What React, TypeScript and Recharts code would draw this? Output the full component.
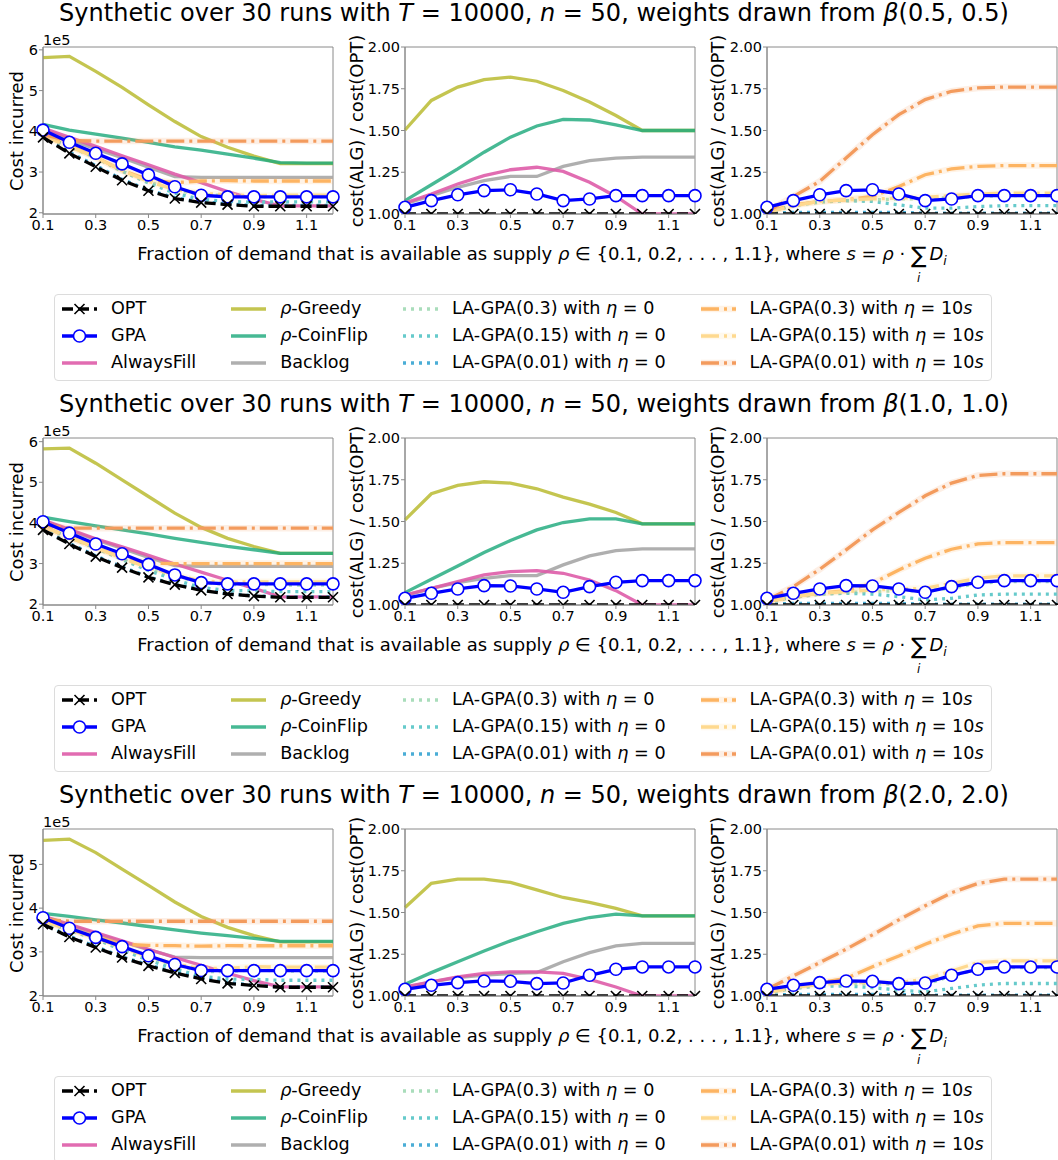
import React from 'react';
import { LineChart, Line, XAxis, YAxis, ReferenceArea } from 'recharts';

// ---------- data (cost in units of 1e5; ratio = cost(ALG)/cost(OPT)) ----------
const rho = [0.1, 0.2, 0.3, 0.4, 0.5, 0.6, 0.7, 0.8, 0.9, 1.0, 1.1, 1.2];
const xTicks = [0.1, 0.3, 0.5, 0.7, 0.9, 1.1];
const costTicks = [2, 3, 4, 5, 6];
const ratioTicks = [1.0, 1.25, 1.5, 1.75, 2.0];
const betaParams = ['0.5, 0.5', '1.0, 1.0', '2.0, 2.0'];

// Row 1: beta(0.5, 0.5)
const r1CostOPT = [3.85, 3.46, 3.13, 2.8, 2.54, 2.35, 2.25, 2.2, 2.16, 2.16, 2.16, 2.16];
const r1CostGPA = [4.03, 3.73, 3.46, 3.2, 2.93, 2.64, 2.43, 2.39, 2.39, 2.39, 2.39, 2.39];
const r1CostFill = [4.08, 3.85, 3.63, 3.4, 3.18, 2.95, 2.74, 2.52, 2.33, 2.17, 2.17, 2.17];
const r1CostGreedy = [5.81, 5.84, 5.47, 5.08, 4.65, 4.24, 3.87, 3.61, 3.39, 3.21, 3.21, 3.21];
const r1CostCoin = [4.17, 4.03, 3.93, 3.83, 3.73, 3.62, 3.54, 3.44, 3.34, 3.23, 3.22, 3.22];
const r1CostBacklog = [4.05, 3.8, 3.57, 3.35, 3.12, 2.89, 2.87, 2.87, 2.87, 2.87, 2.87, 2.87];
const r1CostLa03e0 = [3.89, 3.63, 3.35, 3.02, 2.76, 2.56, 2.45, 2.42, 2.39, 2.4, 2.4, 2.4];
const r1CostLa015e0 = [3.89, 3.63, 3.36, 3.02, 2.73, 2.48, 2.33, 2.28, 2.26, 2.27, 2.27, 2.27];
const r1CostLa001e0 = [3.87, 3.49, 3.16, 2.82, 2.56, 2.37, 2.27, 2.22, 2.18, 2.18, 2.18, 2.18];
const r1CostLa03e10 = [3.89, 3.65, 3.36, 3.04, 2.81, 2.74, 2.78, 2.79, 2.78, 2.78, 2.78, 2.78];
const r1CostLa015e10 = [3.89, 3.63, 3.36, 3.04, 2.77, 2.57, 2.48, 2.44, 2.42, 2.43, 2.43, 2.43];
const r1CostLa001e10 = [3.92, 3.77, 3.76, 3.76, 3.76, 3.76, 3.76, 3.76, 3.76, 3.76, 3.76, 3.76];

const r1RatioOPT = [1, 1, 1, 1, 1, 1, 1, 1, 1, 1, 1, 1];
const r1RatioGPA = [1.04, 1.08, 1.115, 1.14, 1.145, 1.12, 1.08, 1.09, 1.11, 1.11, 1.11, 1.11];
const r1RatioFill = [1.065, 1.12, 1.18, 1.23, 1.265, 1.28, 1.255, 1.19, 1.105, 1.0, 1.0, 1.0];
const r1RatioGreedy = [1.503, 1.68, 1.76, 1.805, 1.82, 1.795, 1.74, 1.67, 1.59, 1.5, 1.5, 1.5];
const r1RatioCoin = [1.08, 1.175, 1.27, 1.37, 1.46, 1.527, 1.567, 1.563, 1.533, 1.5, 1.5, 1.5];
const r1RatioBacklog = [1.06, 1.11, 1.16, 1.2, 1.225, 1.225, 1.285, 1.32, 1.335, 1.34, 1.34, 1.34];
const r1RatioLa03e0 = [1.01, 1.05, 1.07, 1.08, 1.085, 1.09, 1.09, 1.1, 1.105, 1.11, 1.11, 1.11];
const r1RatioLa015e0 = [1.01, 1.05, 1.075, 1.08, 1.075, 1.055, 1.035, 1.035, 1.045, 1.05, 1.05, 1.05];
const r1RatioLa001e0 = [1.005, 1.01, 1.01, 1.01, 1.01, 1.01, 1.005, 1.005, 1.005, 1.005, 1.005, 1.005];
const r1RatioLa03e10 = [1.01, 1.055, 1.075, 1.085, 1.105, 1.165, 1.235, 1.27, 1.285, 1.29, 1.29, 1.29];
const r1RatioLa015e10 = [1.01, 1.05, 1.075, 1.085, 1.09, 1.095, 1.1, 1.11, 1.12, 1.125, 1.125, 1.125];
const r1RatioLa001e10 = [1.015, 1.105, 1.195, 1.335, 1.475, 1.595, 1.685, 1.735, 1.755, 1.76, 1.76, 1.76];

// Row 2: beta(1.0, 1.0)
const r2CostOPT = [3.83, 3.48, 3.17, 2.9, 2.66, 2.48, 2.34, 2.25, 2.2, 2.17, 2.17, 2.17];
const r2CostGPA = [4.03, 3.75, 3.48, 3.24, 2.98, 2.72, 2.53, 2.5, 2.5, 2.5, 2.5, 2.5];
const r2CostFill = [4.07, 3.84, 3.61, 3.41, 3.2, 2.99, 2.79, 2.59, 2.39, 2.18, 2.18, 2.18];
const r2CostGreedy = [5.82, 5.84, 5.47, 5.06, 4.65, 4.24, 3.89, 3.62, 3.42, 3.25, 3.25, 3.25];
const r2CostCoin = [4.14, 4.03, 3.93, 3.83, 3.73, 3.62, 3.52, 3.42, 3.34, 3.25, 3.25, 3.25];
const r2CostBacklog = [4.05, 3.82, 3.59, 3.37, 3.15, 2.95, 2.93, 2.93, 2.93, 2.93, 2.93, 2.93];
const r2CostLa03e0 = [3.91, 3.65, 3.38, 3.12, 2.87, 2.69, 2.54, 2.48, 2.49, 2.47, 2.47, 2.47];
const r2CostLa015e0 = [3.91, 3.64, 3.38, 3.1, 2.83, 2.6, 2.41, 2.34, 2.33, 2.31, 2.31, 2.31];
const r2CostLa001e0 = [3.85, 3.5, 3.19, 2.92, 2.67, 2.49, 2.35, 2.26, 2.21, 2.18, 2.18, 2.18];
const r2CostLa03e10 = [3.91, 3.65, 3.39, 3.15, 3.01, 3.0, 3.0, 3.0, 3.0, 3.0, 3.0, 3.0];
const r2CostLa015e10 = [3.91, 3.65, 3.39, 3.13, 2.9, 2.72, 2.57, 2.54, 2.55, 2.55, 2.55, 2.55];
const r2CostLa001e10 = [3.95, 3.87, 3.87, 3.87, 3.87, 3.87, 3.87, 3.87, 3.87, 3.87, 3.87, 3.87];

const r2RatioOPT = [1, 1, 1, 1, 1, 1, 1, 1, 1, 1, 1, 1];
const r2RatioGPA = [1.04, 1.07, 1.096, 1.116, 1.114, 1.096, 1.076, 1.11, 1.136, 1.146, 1.146, 1.146];
const r2RatioFill = [1.06, 1.1, 1.14, 1.18, 1.2, 1.206, 1.19, 1.15, 1.086, 1.0, 1.0, 1.0];
const r2RatioGreedy = [1.51, 1.666, 1.716, 1.738, 1.73, 1.696, 1.646, 1.604, 1.554, 1.486, 1.486, 1.486];
const r2RatioCoin = [1.074, 1.154, 1.234, 1.314, 1.386, 1.45, 1.494, 1.516, 1.516, 1.486, 1.486, 1.486];
const r2RatioBacklog = [1.056, 1.1, 1.134, 1.16, 1.176, 1.176, 1.24, 1.294, 1.326, 1.336, 1.336, 1.336];
const r2RatioLa03e0 = [1.02, 1.05, 1.065, 1.075, 1.08, 1.085, 1.085, 1.1, 1.13, 1.14, 1.14, 1.14];
const r2RatioLa015e0 = [1.02, 1.045, 1.065, 1.07, 1.065, 1.05, 1.03, 1.04, 1.06, 1.065, 1.065, 1.065];
const r2RatioLa001e0 = [1.005, 1.01, 1.01, 1.01, 1.01, 1.01, 1.005, 1.005, 1.005, 1.005, 1.005, 1.005];
const r2RatioLa03e10 = [1.02, 1.05, 1.07, 1.086, 1.13, 1.21, 1.28, 1.334, 1.366, 1.374, 1.374, 1.374];
const r2RatioLa015e10 = [1.02, 1.05, 1.07, 1.08, 1.09, 1.095, 1.1, 1.13, 1.16, 1.175, 1.175, 1.175];
const r2RatioLa001e10 = [1.03, 1.11, 1.214, 1.33, 1.45, 1.554, 1.654, 1.73, 1.776, 1.786, 1.786, 1.786];

// Row 3: beta(2.0, 2.0)
const r3CostOPT = [3.63, 3.34, 3.1, 2.87, 2.68, 2.52, 2.38, 2.28, 2.23, 2.19, 2.19, 2.19];
const r3CostGPA = [3.78, 3.54, 3.33, 3.12, 2.91, 2.71, 2.57, 2.57, 2.57, 2.57, 2.57, 2.57];
const r3CostFill = [3.82, 3.63, 3.44, 3.25, 3.06, 2.87, 2.69, 2.51, 2.34, 2.2, 2.2, 2.2];
const r3CostGreedy = [5.55, 5.58, 5.27, 4.89, 4.52, 4.14, 3.81, 3.56, 3.37, 3.23, 3.23, 3.23];
const r3CostCoin = [3.88, 3.81, 3.73, 3.66, 3.58, 3.5, 3.43, 3.37, 3.31, 3.24, 3.24, 3.24];
const r3CostBacklog = [3.8, 3.6, 3.42, 3.23, 3.05, 2.88, 2.87, 2.87, 2.87, 2.87, 2.87, 2.87];
const r3CostLa03e0 = [3.7, 3.51, 3.32, 3.09, 2.88, 2.7, 2.55, 2.55, 2.59, 2.56, 2.56, 2.56];
const r3CostLa015e0 = [3.7, 3.49, 3.29, 3.04, 2.81, 2.61, 2.44, 2.38, 2.37, 2.35, 2.35, 2.35];
const r3CostLa001e0 = [3.65, 3.36, 3.12, 2.89, 2.7, 2.54, 2.4, 2.3, 2.24, 2.2, 2.2, 2.2];
const r3CostLa03e10 = [3.72, 3.52, 3.35, 3.17, 3.15, 3.14, 3.13, 3.14, 3.14, 3.14, 3.14, 3.14];
const r3CostLa015e10 = [3.7, 3.51, 3.32, 3.1, 2.89, 2.72, 2.62, 2.62, 2.66, 2.65, 2.65, 2.65];
const r3CostLa001e10 = [3.75, 3.7, 3.7, 3.7, 3.7, 3.7, 3.7, 3.7, 3.7, 3.7, 3.7, 3.7];

const r3RatioOPT = [1, 1, 1, 1, 1, 1, 1, 1, 1, 1, 1, 1];
const r3RatioGPA = [1.04, 1.064, 1.08, 1.09, 1.088, 1.074, 1.078, 1.124, 1.16, 1.174, 1.174, 1.174];
const r3RatioFill = [1.054, 1.085, 1.115, 1.135, 1.145, 1.145, 1.135, 1.1, 1.054, 1.0, 1.0, 1.0];
const r3RatioGreedy = [1.53, 1.675, 1.7, 1.7, 1.68, 1.635, 1.59, 1.56, 1.525, 1.48, 1.48, 1.48];
const r3RatioCoin = [1.07, 1.14, 1.205, 1.27, 1.33, 1.385, 1.435, 1.47, 1.49, 1.48, 1.48, 1.48];
const r3RatioBacklog = [1.05, 1.085, 1.11, 1.125, 1.135, 1.14, 1.205, 1.26, 1.3, 1.315, 1.315, 1.315];
const r3RatioLa03e0 = [1.02, 1.05, 1.07, 1.075, 1.075, 1.07, 1.07, 1.12, 1.16, 1.17, 1.17, 1.17];
const r3RatioLa015e0 = [1.02, 1.045, 1.06, 1.06, 1.05, 1.035, 1.025, 1.045, 1.065, 1.075, 1.075, 1.075];
const r3RatioLa001e0 = [1.005, 1.01, 1.01, 1.01, 1.01, 1.01, 1.005, 1.005, 1.005, 1.005, 1.005, 1.005];
const r3RatioLa03e10 = [1.024, 1.054, 1.08, 1.105, 1.175, 1.24, 1.31, 1.37, 1.42, 1.435, 1.435, 1.435];
const r3RatioLa015e10 = [1.02, 1.05, 1.07, 1.08, 1.08, 1.08, 1.1, 1.15, 1.2, 1.21, 1.21, 1.21];
const r3RatioLa001e10 = [1.04, 1.12, 1.2, 1.28, 1.366, 1.456, 1.54, 1.618, 1.674, 1.7, 1.7, 1.7];

const costDomains: [number, number][] = [[1.97, 6.07], [1.98, 6.09], [1.99, 5.81]];

// ---------- styles ----------
const DASH_OPT = '11 5';
const DOT = '3 5';
const DASHDOT = '18 5 3 5';

const STYLE: Record<string, any> = {
  opt: { color: '#000000', width: 3.3, dash: DASH_OPT },
  gpa: { color: '#0000ff', width: 3.3 },
  fill: { color: '#de5ca8', width: 3.3, opacity: 0.9 },
  greedy: { color: '#b5b624', width: 3.3, opacity: 0.8 },
  coin: { color: '#1fa97c', width: 3.3, opacity: 0.82 },
  backlog: { color: '#a6a6a6', width: 3.3, opacity: 0.9 },
  la03e0: { color: '#a9ddbb', width: 3.3, dash: DOT },
  la015e0: { color: '#66cacb', width: 3.3, dash: DOT },
  la001e0: { color: '#4aadd6', width: 3.3, dash: DOT },
  la03e10: { color: '#fdb462', width: 3.3, dash: DASHDOT, halo: true },
  la015e10: { color: '#fed98f', width: 3.3, dash: DASHDOT, halo: true },
  la001e10: { color: '#f39b5d', width: 3.3, dash: DASHDOT, halo: true },
};

const P1_KEYS = ['greedy', 'coin', 'backlog', 'fill', 'la03e0', 'la015e0', 'la001e0', 'la03e10', 'la015e10', 'la001e10', 'gpa', 'opt'];
const P2_KEYS = ['greedy', 'coin', 'backlog', 'fill', 'gpa', 'opt'];
const P3_KEYS = ['la03e0', 'la015e0', 'la001e0', 'la03e10', 'la015e10', 'la001e10', 'gpa', 'opt'];

function table(cols: Record<string, number[]>) {
  return rho.map((x, i) => {
    const row: any = { x };
    Object.keys(cols).forEach((k) => { row[k] = cols[k][i]; });
    return row;
  });
}

const costTables = [
  table({ opt: r1CostOPT, gpa: r1CostGPA, fill: r1CostFill, greedy: r1CostGreedy, coin: r1CostCoin, backlog: r1CostBacklog, la03e0: r1CostLa03e0, la015e0: r1CostLa015e0, la001e0: r1CostLa001e0, la03e10: r1CostLa03e10, la015e10: r1CostLa015e10, la001e10: r1CostLa001e10 }),
  table({ opt: r2CostOPT, gpa: r2CostGPA, fill: r2CostFill, greedy: r2CostGreedy, coin: r2CostCoin, backlog: r2CostBacklog, la03e0: r2CostLa03e0, la015e0: r2CostLa015e0, la001e0: r2CostLa001e0, la03e10: r2CostLa03e10, la015e10: r2CostLa015e10, la001e10: r2CostLa001e10 }),
  table({ opt: r3CostOPT, gpa: r3CostGPA, fill: r3CostFill, greedy: r3CostGreedy, coin: r3CostCoin, backlog: r3CostBacklog, la03e0: r3CostLa03e0, la015e0: r3CostLa015e0, la001e0: r3CostLa001e0, la03e10: r3CostLa03e10, la015e10: r3CostLa015e10, la001e10: r3CostLa001e10 }),
];
const ratioTables = [
  table({ opt: r1RatioOPT, gpa: r1RatioGPA, fill: r1RatioFill, greedy: r1RatioGreedy, coin: r1RatioCoin, backlog: r1RatioBacklog, la03e0: r1RatioLa03e0, la015e0: r1RatioLa015e0, la001e0: r1RatioLa001e0, la03e10: r1RatioLa03e10, la015e10: r1RatioLa015e10, la001e10: r1RatioLa001e10 }),
  table({ opt: r2RatioOPT, gpa: r2RatioGPA, fill: r2RatioFill, greedy: r2RatioGreedy, coin: r2RatioCoin, backlog: r2RatioBacklog, la03e0: r2RatioLa03e0, la015e0: r2RatioLa015e0, la001e0: r2RatioLa001e0, la03e10: r2RatioLa03e10, la015e10: r2RatioLa015e10, la001e10: r2RatioLa001e10 }),
  table({ opt: r3RatioOPT, gpa: r3RatioGPA, fill: r3RatioFill, greedy: r3RatioGreedy, coin: r3RatioCoin, backlog: r3RatioBacklog, la03e0: r3RatioLa03e0, la015e0: r3RatioLa015e0, la001e0: r3RatioLa001e0, la03e10: r3RatioLa03e10, la015e10: r3RatioLa015e10, la001e10: r3RatioLa001e10 }),
];

// ---------- layout ----------
const FONT = "'DejaVu Sans', sans-serif";
const ROW_STEP = 391;
const PLOT_TOP = 47;
const PLOT_W = 290;
const PLOT_H = 167;
const PANEL_LEFT = [43, 405, 767];
const YW = 45;
const XH = 30;
const MT = 10;
const MR = 12;
const SPINE = '#8a8a8a';

const XDot = (p: any) => {
  const { cx, cy, index } = p;
  if (cx == null || cy == null) return <g key={'xd' + index} />;
  const s = 5;
  return (
    <path key={'xd' + index} d={`M${cx - s},${cy - s}L${cx + s},${cy + s}M${cx - s},${cy + s}L${cx + s},${cy - s}`}
      stroke="#000" strokeWidth={1.6} fill="none" />
  );
};

function renderLines(keys: string[]) {
  const out: any[] = [];
  keys.forEach((k) => {
    const s = STYLE[k];
    if (s.halo) {
      out.push(
        <Line key={k + '-halo'} dataKey={k} type="linear" stroke={s.color} strokeOpacity={0.16} strokeWidth={6.5}
          dot={false} activeDot={false} isAnimationActive={false} />
      );
    }
    let dot: any = false;
    if (k === 'opt') dot = XDot;
    if (k === 'gpa') dot = { r: 6, fill: '#ffffff', stroke: '#0000ff', strokeWidth: 1.6 };
    out.push(
      <Line key={k} dataKey={k} type="linear" stroke={s.color} strokeWidth={s.width}
        strokeOpacity={s.opacity ?? 1} strokeDasharray={s.dash} dot={dot} activeDot={false}
        isAnimationActive={false} />
    );
  });
  return out;
}

function Panel({ left, top, data, keys, domain, ticks, fmt }: any) {
  return (
    <div style={{ position: 'absolute', left: left - YW, top: top - MT }}>
      <LineChart width={YW + PLOT_W + MR} height={MT + PLOT_H + XH} data={data}
        margin={{ top: MT, right: MR, left: 0, bottom: 0 }}>
        <XAxis dataKey="x" type="number" domain={[0.1, 1.2]} ticks={xTicks} interval={0}
          tickFormatter={(v: number) => v.toFixed(1)} height={XH} tickSize={4} tickMargin={2}
          stroke={SPINE} tick={{ fill: '#000', fontSize: 14.5, fontFamily: FONT }} />
        <YAxis type="number" domain={domain} ticks={ticks} interval={0} allowDataOverflow
          tickFormatter={fmt} width={YW} tickSize={4} tickMargin={1}
          stroke={SPINE} tick={{ fill: '#000', fontSize: 14.5, fontFamily: FONT }} />
        {renderLines(keys)}
        <ReferenceArea x1={0.1} x2={1.2} y1={domain[0]} y2={domain[1]} fill="#ffffff" fillOpacity={0}
          stroke={SPINE} strokeWidth={1} ifOverflow="visible" />
      </LineChart>
    </div>
  );
}

const Title = ({ top, beta }: any) => (
  <div style={{ position: 'absolute', left: 0, width: 1068, top, textAlign: 'center', fontSize: 24, lineHeight: '26px', whiteSpace: 'nowrap' }}>
    Synthetic over 30 runs with <i>T</i> = 10000, <i>n</i> = 50, weights drawn from <i>β</i>({beta})
  </div>
);

const XLabel = ({ top }: any) => (
  <div style={{ position: 'absolute', left: 0, width: 1084, top, textAlign: 'center', fontSize: 18, lineHeight: '20px', whiteSpace: 'nowrap' }}>
    Fraction of demand that is available as supply <i>ρ</i> ∈ {'{'}0.1, 0.2, . . . , 1.1{'}'}, where <i>s</i> = <i>ρ</i> ·{' '}
    <span style={{ display: 'inline-block', position: 'relative', fontSize: 23, lineHeight: '20px', verticalAlign: '-3px' }}>
      ∑
      <span style={{ position: 'absolute', left: '50%', top: 27, transform: 'translateX(-50%)', fontSize: 12, lineHeight: '12px', fontStyle: 'italic' }}>i</span>
    </span>
    <span style={{ marginLeft: 3 }}><i>D</i></span><span style={{ fontSize: 12.5, fontStyle: 'italic', position: 'relative', top: 5 }}>i</span>
  </div>
);

const YLabel = ({ cx, cy, text }: any) => (
  <div style={{ position: 'absolute', left: cx, top: cy, transform: 'translate(-50%, -50%) rotate(-90deg)', fontSize: 18, lineHeight: '20px', whiteSpace: 'nowrap' }}>
    {text}
  </div>
);

// ---------- legend ----------
function Handle({ k }: any) {
  const s = STYLE[k];
  return (
    <svg width={35} height={14} style={{ display: 'block' }}>
      {s.halo && <line x1={0} y1={7} x2={35} y2={7} stroke={s.color} strokeOpacity={0.16} strokeWidth={6.5} />}
      <line x1={0} y1={7} x2={35} y2={7} stroke={s.color} strokeWidth={s.width} strokeOpacity={s.opacity ?? 1} strokeDasharray={s.dash} />
      {k === 'opt' && <path d="M12.5,2L22.5,12M12.5,12L22.5,2" stroke="#000" strokeWidth={1.6} fill="none" />}
      {k === 'gpa' && <circle cx={17.5} cy={7} r={6} fill="#fff" stroke="#0000ff" strokeWidth={1.6} />}
    </svg>
  );
}

const LEG_LABEL: Record<string, any> = {
  opt: 'OPT',
  gpa: 'GPA',
  fill: 'AlwaysFill',
  greedy: <><i>ρ</i>-Greedy</>,
  coin: <><i>ρ</i>-CoinFlip</>,
  backlog: 'Backlog',
  la03e0: <>LA-GPA(0.3) with <i>η</i> = 0</>,
  la015e0: <>LA-GPA(0.15) with <i>η</i> = 0</>,
  la001e0: <>LA-GPA(0.01) with <i>η</i> = 0</>,
  la03e10: <>LA-GPA(0.3) with <i>η</i> = 10<i>s</i></>,
  la015e10: <>LA-GPA(0.15) with <i>η</i> = 10<i>s</i></>,
  la001e10: <>LA-GPA(0.01) with <i>η</i> = 10<i>s</i></>,
};
const LEG_COLS = [['opt', 'gpa', 'fill'], ['greedy', 'coin', 'backlog'], ['la03e0', 'la015e0', 'la001e0'], ['la03e10', 'la015e10', 'la001e10']];

const LegendBox = ({ top }: any) => (
  <div style={{
    position: 'absolute', left: 54, top, border: '1px solid #dcdcdc', borderRadius: 4, background: '#fff',
    padding: '0px 7px 4px 7px', display: 'flex', gap: 35, fontSize: 17.6, lineHeight: '27px',
  }}>
    {LEG_COLS.map((col, ci) => (
      <div key={ci} style={{ display: 'flex', flexDirection: 'column' }}>
        {col.map((k) => (
          <div key={k} style={{ display: 'flex', alignItems: 'center', height: 27, whiteSpace: 'nowrap' }}>
            <Handle k={k} />
            <span style={{ marginLeft: 14 }}>{LEG_LABEL[k]}</span>
          </div>
        ))}
      </div>
    ))}
  </div>
);

export default function App() {
  return (
    <div style={{ position: 'absolute', left: 0, top: 0, width: 1058, height: 1160, background: '#fff', fontFamily: FONT, color: '#000', overflow: 'hidden' }}>
      {[0, 1, 2].map((r) => {
        const off = r * ROW_STEP;
        const top = PLOT_TOP + off;
        const cd = costDomains[r];
        const cTicks = costTicks.filter((t) => t >= cd[0] && t <= cd[1]);
        return (
          <React.Fragment key={r}>
            <Title top={off} beta={betaParams[r]} />
            <div style={{ position: 'absolute', left: 43, top: 32 + off, fontSize: 14.5, lineHeight: '16px' }}>1e5</div>
            <Panel left={PANEL_LEFT[0]} top={top} data={costTables[r]} keys={P1_KEYS} domain={cd} ticks={cTicks} fmt={(v: number) => String(v)} />
            <Panel left={PANEL_LEFT[1]} top={top} data={ratioTables[r]} keys={P2_KEYS} domain={[1, 2]} ticks={ratioTicks} fmt={(v: number) => v.toFixed(2)} />
            <Panel left={PANEL_LEFT[2]} top={top} data={ratioTables[r]} keys={P3_KEYS} domain={[1, 2]} ticks={ratioTicks} fmt={(v: number) => v.toFixed(2)} />
            <YLabel cx={17} cy={top + PLOT_H / 2} text="Cost incurred" />
            <YLabel cx={PANEL_LEFT[1] - 48} cy={top + PLOT_H / 2} text="cost(ALG) / cost(OPT)" />
            <YLabel cx={PANEL_LEFT[2] - 49} cy={top + PLOT_H / 2} text="cost(ALG) / cost(OPT)" />
            <XLabel top={244 + off} />
            <LegendBox top={294 + off} />
          </React.Fragment>
        );
      })}
    </div>
  );
}
